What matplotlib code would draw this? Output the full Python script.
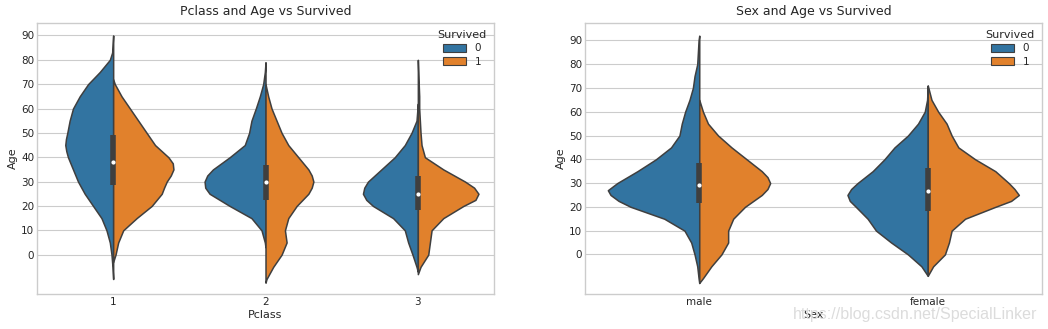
import numpy as np
import matplotlib.pyplot as plt

plt.style.use('seaborn-v0_8-whitegrid')
plt.rcParams['font.family'] = ['DejaVu Sans']

# half-violin outlines: age levels and relative widths
p1_died_age = [90, 83, 80, 75, 70, 65, 60, 55, 50, 47.5, 45, 42.5, 40, 35, 30, 25, 20, 15, 10, 5, 0, -5, -10]
p1_died_w = [0, 3, 10, 40, 75, 100, 120, 130, 137, 141, 143, 140, 135, 120, 105, 85, 60, 35, 20, 10, 5, 2, 0]
p1_surv_age = [72, 70, 65, 60, 55, 50, 45, 40, 37.5, 35, 32.5, 30, 27.5, 25, 20, 15, 10, 5, 0, -3]
p1_surv_w = [0, 5, 25, 50, 75, 100, 125, 165, 178, 180, 172, 160, 152, 145, 115, 70, 30, 15, 7, 0]

p2_died_age = [79, 75, 70, 65, 60, 55, 50, 45, 40, 35, 32.5, 30, 27.5, 25, 20, 15, 10, 5, 3]
p2_died_w = [0, 2, 7, 17, 29, 42, 49, 62, 107, 157, 174, 182, 180, 167, 107, 42, 12, 2, 0]
p2_surv_age = [70, 65, 60, 55, 50, 45, 40, 35, 32.5, 30, 27.5, 25, 20, 15, 10, 5, 0, -5, -10, -11.5]
p2_surv_w = [0, 8, 18, 33, 48, 68, 98, 128, 138, 143, 138, 128, 93, 68, 58, 63, 48, 23, 3, 0]

p3_died_age = [62, 55, 50, 45, 40, 35, 30, 27.5, 25, 22.5, 20, 15, 10, 5, 0, -5, -7]
p3_died_w = [0, 4, 19, 39, 69, 109, 149, 160, 164, 154, 134, 74, 39, 29, 16, 4, 0]
p3_surv_age = [80, 72, 65, 60, 55, 50, 45, 40, 35, 30, 27.5, 25, 22.5, 20, 15, 10, 5, 0, -5, -8]
p3_surv_w = [0, 2, 4, 4, 6, 8, 11, 21, 76, 141, 168, 181, 172, 136, 76, 41, 36, 31, 8, 0]

male_died_age = [92, 90, 80, 75, 70, 65, 60, 55, 50, 45, 40, 35, 30, 27, 25, 22.5, 20, 15, 10, 5, 0, -5, -10, -12]
male_died_w = [0, 2, 6, 14, 19, 29, 42, 52, 59, 84, 129, 184, 244, 272, 264, 240, 204, 104, 44, 24, 14, 6, 2, 0]
male_surv_age = [65, 60, 55, 50, 45, 40, 35, 32.5, 30, 27.5, 25, 20, 15, 10, 5, 0, -5, -10, -12]
male_surv_w = [0, 11, 26, 56, 96, 141, 186, 203, 211, 203, 186, 136, 101, 86, 86, 66, 36, 11, 0]

female_died_age = [71, 65, 60, 55, 50, 45, 40, 35, 30, 27.5, 25, 22.5, 20, 15, 10, 5, 0, -5, -9]
female_died_w = [0, 2, 9, 29, 59, 99, 129, 164, 209, 228, 239, 232, 214, 179, 154, 109, 59, 19, 0]
female_surv_age = [71, 65, 60, 55, 50, 45, 40, 35, 30, 27.5, 25, 22.5, 20, 15, 10, 5, 0, -5, -9]
female_surv_w = [0, 11, 31, 56, 71, 91, 141, 201, 241, 258, 271, 248, 201, 111, 71, 63, 51, 16, 0]

# quartiles and median of Age
pclass_q1 = [28.5, 22.6, 18.5]
pclass_med = [38, 30, 25]
pclass_q3 = [49, 36.8, 32.2]
sex_q1 = [21.5, 18.3]
sex_med = [29, 26.7]
sex_q3 = [38.6, 36.2]

pclass_labels = ['1', '2', '3']
sex_labels = ['male', 'female']

blue = '#3274a1'
orange = '#e1812c'
edge = '#3f3f3f'


def draw_panel(ax, halves, q1, med, q3, labels, title, xlabel):
    wmax = max(max(w) for pair in halves for (a, w) in pair)
    for i, (died, surv) in enumerate(halves):
        a, w = np.array(died[0]), np.array(died[1]) / wmax * 0.4
        ax.fill_betweenx(a, i - w, i, facecolor=blue, edgecolor=edge, lw=1.1)
        a, w = np.array(surv[0]), np.array(surv[1]) / wmax * 0.4
        ax.fill_betweenx(a, i, i + w, facecolor=orange, edgecolor=edge, lw=1.1)
        ax.plot([i, i], [q1[i], q3[i]], color=edge, lw=4, solid_capstyle='butt')
        ax.scatter([i], [med[i]], s=4, color='white', zorder=5)
    ax.set_xlim(-0.5, len(labels) - 0.5)
    ax.set_xticks(range(len(labels)))
    ax.set_xticklabels(labels)
    ax.set_yticks(range(0, 100, 10))
    ax.xaxis.grid(False)
    ax.set_title(title, fontsize=9)
    ax.set_xlabel(xlabel, fontsize=8, labelpad=2)
    ax.set_ylabel('Age', fontsize=8, labelpad=2)
    ax.tick_params(labelsize=7.5, pad=2)
    for s in ax.spines.values():
        s.set_color('#cccccc')
    h = [plt.Rectangle((0, 0), 1, 1, facecolor=blue, edgecolor=edge, lw=0.8),
         plt.Rectangle((0, 0), 1, 1, facecolor=orange, edgecolor=edge, lw=0.8)]
    ax.legend(h, ['0', '1'], title='Survived', loc='upper right', frameon=False,
              fontsize=7.5, title_fontsize=8, handlelength=2.2, handleheight=0.8,
              borderaxespad=0.3, labelspacing=0.3)


fig = plt.figure(figsize=(10.48, 3.29), dpi=100)
ax1 = fig.add_axes([0.0353, 0.106, 0.4361, 0.824])
ax2 = fig.add_axes([0.5582, 0.106, 0.4361, 0.824])

draw_panel(ax1, [((p1_died_age, p1_died_w), (p1_surv_age, p1_surv_w)),
                 ((p2_died_age, p2_died_w), (p2_surv_age, p2_surv_w)),
                 ((p3_died_age, p3_died_w), (p3_surv_age, p3_surv_w))],
           pclass_q1, pclass_med, pclass_q3, pclass_labels,
           'Pclass and Age vs Survived', 'Pclass')
ax1.set_ylim(-16.2, 95.1)

draw_panel(ax2, [((male_died_age, male_died_w), (male_surv_age, male_surv_w)),
                 ((female_died_age, female_died_w), (female_surv_age, female_surv_w))],
           sex_q1, sex_med, sex_q3, sex_labels,
           'Sex and Age vs Survived', 'Sex')
ax2.set_ylim(-16.7, 97.3)

fig.text(0.99, 0.02, 'https://blog.csdn.net/SpecialLinker', ha='right', va='bottom',
         fontsize=11.5, color='#dcdcdc', family='Liberation Sans')

fig.savefig('out.png', dpi=100)
